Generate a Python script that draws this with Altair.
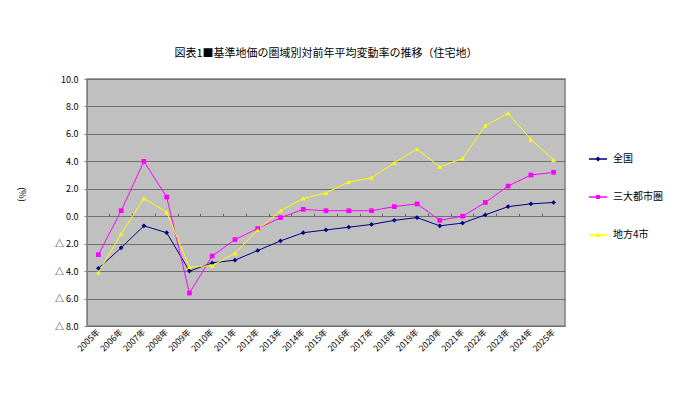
import altair as alt
import pandas as pd

years = [f"{y}年" for y in range(2005, 2026)]
series_names = ["全国", "三大都市圏", "地方4市"]
zenkoku = [-3.8, -2.3, -0.7, -1.2, -4.0, -3.4, -3.2, -2.5, -1.8, -1.2, -1.0, -0.8, -0.6, -0.3, -0.1, -0.7, -0.5, 0.1, 0.7, 0.9, 1.0]
sandai = [-2.8, 0.4, 4.0, 1.4, -5.6, -2.9, -1.7, -0.9, -0.1, 0.5, 0.4, 0.4, 0.4, 0.7, 0.9, -0.3, 0.0, 1.0, 2.2, 3.0, 3.2]
chiho4 = [-4.1, -1.3, 1.3, 0.3, -3.7, -3.6, -2.7, -1.0, 0.4, 1.3, 1.7, 2.5, 2.8, 3.9, 4.9, 3.6, 4.2, 6.6, 7.5, 5.6, 4.1]
y_ticks = [-8, -6, -4, -2, 0, 2, 4, 6, 8, 10]

colors = ["#000080", "#FF00FF", "#FFFF00"]
shapes = ["diamond", "square", "triangle-up"]
legend_shapes = [
    "M-1,0L1,0M0,-0.16L0.16,0L0,0.16L-0.16,0Z",
    "M-1,0L1,0M-0.13,-0.13L0.13,-0.13L0.13,0.13L-0.13,0.13Z",
    "M-1,0L1,0M0,-0.15L0.15,0.12L-0.15,0.12Z",
]

rows = []
for name, vals in zip(series_names, [zenkoku, sandai, chiho4]):
    for yr, v in zip(years, vals):
        rows.append({"year": yr, "series": name, "value": v})
df = pd.DataFrame(rows)

W, H = 478, 247
YMIN, YMAX = -8, 10
FONT = "Noto Sans CJK JP"

xscale = alt.Scale(type="band", domain=years, paddingInner=0, paddingOuter=0)
yscale = alt.Scale(domain=[YMIN, YMAX], nice=False, zero=False)
cscale = alt.Scale(domain=series_names, range=colors)

yaxis = alt.Axis(
    values=y_ticks, tickCount=10,
    labelExpr="datum.value < 0 ? '△ ' + format(-datum.value, '.1f') : format(datum.value, '.1f')",
    labelFontSize=9, labelFont=FONT, labelColor="#000000", labelPadding=6,
    tickSize=3, tickColor="#808080", domainColor="#808080",
    grid=True, gridColor="#707070", gridWidth=1,
    title="(%)", titleAngle=90, titleFontSize=9, titleFont=FONT, titleFontWeight="normal",
    titleX=-66, titleY=115, titleAlign="center", titleBaseline="middle",
)

base = alt.Chart(df)

lines = base.mark_line(strokeWidth=1).encode(
    x=alt.X("year:N", sort=years, scale=xscale,
            axis=alt.Axis(orient="bottom", labelAngle=-45, labelAlign="right", labelBaseline="middle",
                          labelFontSize=8.5, labelFont=FONT, labelColor="#000000", labelPadding=4,
                          ticks=False, domain=False, grid=False, title=None)),
    y=alt.Y("value:Q", scale=yscale, axis=yaxis),
    color=alt.Color("series:N", scale=cscale, legend=None),
    detail="series:N",
)

points = base.mark_point(filled=True, opacity=1, size=22).encode(
    x=alt.X("year:N", sort=years, scale=xscale,
            axis=alt.Axis(orient="top", offset=-H * (YMAX - 0) / (YMAX - YMIN), labels=False, domain=False,
                          ticks=True, tickSize=3, tickColor="#606060", tickWidth=1, bandPosition=0,
                          grid=False, title=None)),
    y=alt.Y("value:Q", scale=yscale, axis=yaxis),
    color=alt.Color("series:N", scale=cscale, legend=None),
    shape=alt.Shape("series:N", scale=alt.Scale(domain=series_names, range=shapes), legend=None),
)

legend_layer = base.mark_point(filled=False, strokeWidth=1.6, color="#808080").encode(
    x=alt.X("year:N", sort=years, scale=xscale, axis=None),
    y=alt.Y("value:Q", scale=yscale, axis=yaxis),
    shape=alt.Shape("series:N", scale=alt.Scale(domain=series_names, range=legend_shapes),
                    legend=alt.Legend(title=None, orient="none", legendX=501, legendY=70,
                                      symbolSize=324, rowPadding=23, labelOffset=5,
                                      labelFontSize=10, labelFont=FONT, labelColor="#000000",
                                      symbolStrokeWidth=1.6, symbolOpacity=1,
                                      symbolStrokeColor=alt.ExprRef("scale('color', datum.value)"),
                                      symbolFillColor="transparent")),
).transform_filter("false")

chart = alt.layer(lines, points, legend_layer).resolve_axis(x="independent").resolve_scale(shape="independent").properties(
    width=W, height=H,
    title=alt.TitleParams("図表1■基準地価の圏域別対前年平均変動率の推移（住宅地）", fontSize=11, font=FONT,
                          fontWeight="normal", anchor="middle", offset=16, color="#000000"),
    autosize=alt.AutoSizeParams(type="none"),
    padding={"left": 87, "top": 79, "right": 117, "bottom": 73},
    background="#FFFFFF",
).configure_view(fill="#C0C0C0", stroke="#808080", strokeWidth=1.5)

chart.save("out.html", embed_options={"renderer": "svg", "actions": False})
